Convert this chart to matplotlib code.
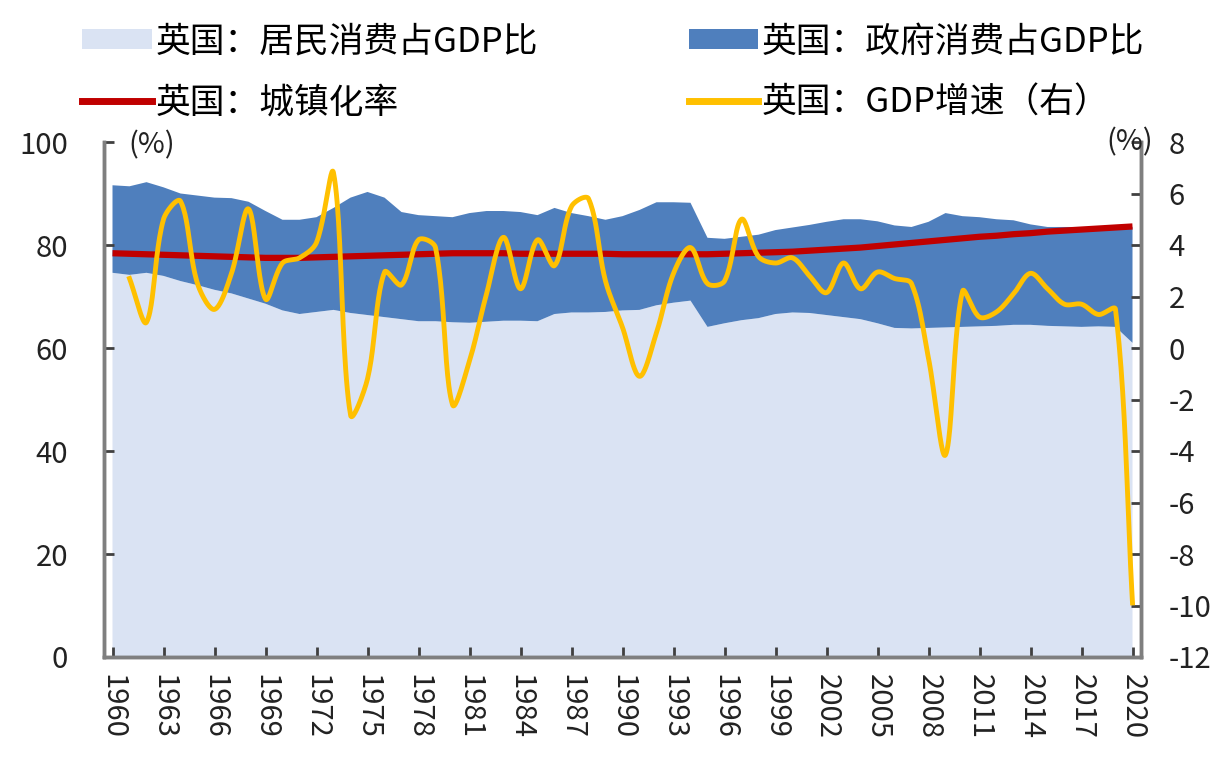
import numpy as np
import matplotlib
matplotlib.use("Agg")
import matplotlib.pyplot as plt
from matplotlib.patches import Patch
from matplotlib.lines import Line2D

plt.rcParams["font.family"] = ["Noto Sans CJK SC", "DejaVu Sans"]
plt.rcParams["axes.unicode_minus"] = False

years = list(range(1960, 2021))

# 居民消费占GDP比 (%)
household = [74.6, 74.2, 74.6, 74.0, 73.0, 72.2, 71.3, 70.6, 69.6, 68.6,
             67.3, 66.6, 67.0, 67.4, 66.8, 66.4, 66.0, 65.6, 65.2, 65.2,
             65.0, 64.9, 65.1, 65.3, 65.3, 65.2, 66.6, 66.9, 66.9, 67.0,
             67.3, 67.4, 68.3, 68.8, 69.2, 64.1, 64.8, 65.4, 65.8, 66.6,
             66.9, 66.8, 66.4, 66.0, 65.6, 64.8, 63.9, 63.8, 63.9, 64.0,
             64.1, 64.2, 64.3, 64.5, 64.5, 64.3, 64.2, 64.1, 64.2, 64.1, 61.0]

# 居民+政府消费占GDP比 (%)
total = [91.6, 91.4, 92.2, 91.2, 90.0, 89.6, 89.2, 89.1, 88.4, 86.6,
         84.9, 84.9, 85.4, 87.2, 89.2, 90.3, 89.2, 86.4, 85.8, 85.6,
         85.4, 86.2, 86.6, 86.6, 86.4, 85.8, 87.2, 86.2, 85.6, 84.9,
         85.6, 86.8, 88.3, 88.3, 88.2, 81.4, 81.2, 81.6, 82.0, 82.9,
         83.4, 83.9, 84.5, 85.0, 85.0, 84.6, 83.8, 83.5, 84.5, 86.2,
         85.6, 85.4, 85.0, 84.8, 84.0, 83.5, 83.5, 83.5, 83.5, 83.5, 83.5]

government = [t - h for t, h in zip(total, household)]

# 城镇化率 (%)
urban = [78.4, 78.3, 78.2, 78.1, 78.0, 77.9, 77.8, 77.7, 77.6, 77.5,
         77.5, 77.5, 77.6, 77.7, 77.8, 77.9, 78.0, 78.1, 78.2, 78.3,
         78.4, 78.4, 78.4, 78.4, 78.3, 78.3, 78.3, 78.3, 78.3, 78.3,
         78.2, 78.2, 78.2, 78.2, 78.2, 78.2, 78.3, 78.4, 78.5, 78.6,
         78.7, 78.9, 79.1, 79.3, 79.5, 79.8, 80.1, 80.4, 80.7, 81.0,
         81.3, 81.6, 81.8, 82.1, 82.3, 82.6, 82.8, 83.0, 83.2, 83.4, 83.6]

# GDP增速 (%), 1961-2020
gdp_years = list(range(1961, 2021))
gdp_growth = [2.7, 1.0, 5.0, 5.7, 2.5, 1.5, 2.9, 5.4, 1.9, 3.3,
              3.5, 4.1, 6.8, -2.6, -1.2, 2.95, 2.45, 4.2, 3.9, -2.2,
              -0.5, 2.1, 4.3, 2.3, 4.2, 3.2, 5.5, 5.8, 2.6, 0.8,
              -1.1, 0.6, 2.9, 3.9, 2.5, 2.6, 5.0, 3.55, 3.3, 3.5,
              2.8, 2.15, 3.3, 2.3, 2.95, 2.7, 2.5, -0.4, -4.15, 2.2,
              1.2, 1.4, 2.1, 2.9, 2.3, 1.7, 1.7, 1.3, 1.5, -9.9]

xtick_years = list(range(1960, 2021, 3))


def smooth_line(x, y, sx=17.0, sy=25.75, n=24):
    """Сглаживание Безье в экранных координатах (похоже на Excel)."""
    P = np.column_stack([np.asarray(x, float) * sx, np.asarray(y, float) * sy])
    m = len(P)
    out = [P[0]]
    t = np.linspace(0, 1, n + 1)[1:, None]
    for i in range(m - 1):
        p1, p2 = P[i], P[i + 1]
        d12 = np.linalg.norm(p2 - p1)
        if i > 0:
            p0 = P[i - 1]
            d01 = np.linalg.norm(p1 - p0)
            c1 = p1 + (p2 - p0) * d12 / (d01 + d12) / 3
        else:
            c1 = p1 + (p2 - p1) / 3
        if i + 2 < m:
            p3 = P[i + 2]
            d23 = np.linalg.norm(p3 - p2)
            c2 = p2 - (p3 - p1) * d12 / (d12 + d23) / 3
        else:
            c2 = p2 - (p2 - p1) / 3
        seg = ((1 - t) ** 3 * p1 + 3 * (1 - t) ** 2 * t * c1
               + 3 * (1 - t) * t ** 2 * c2 + t ** 3 * p2)
        out.extend(seg)
    out = np.array(out)
    return out[:, 0] / sx, out[:, 1] / sy


c_light = "#DAE3F3"
c_dark = "#4F7FBD"
c_red = "#C00000"
c_yellow = "#FFC000"
c_axis = "#7F7F7F"

fig = plt.figure(figsize=(12.24, 7.58), dpi=100)
ax = fig.add_axes([104 / 1224, 101 / 758, 1037 / 1224, 515 / 758])
ax2 = ax.twinx()

ax.stackplot(years, household, government, colors=[c_light, c_dark],
             linewidth=0)
ax.plot(years, urban, color=c_red, lw=4.5, solid_capstyle="butt")

sx, sy = smooth_line(gdp_years, gdp_growth)
ax2.plot(sx, sy, color=c_yellow, lw=3.5)

ax.set_xlim(1959.5, 2020.5)
ax.set_ylim(0, 100)
ax2.set_ylim(-12, 8)
ax.set_yticks(range(0, 101, 20))
ax2.set_yticks(range(-12, 9, 2))
ax.set_xticks(xtick_years)
ax.set_xticklabels([str(y) for y in xtick_years], rotation=270)

for a in (ax, ax2):
    a.spines["top"].set_visible(False)
    for s in ("left", "right", "bottom"):
        a.spines[s].set_color(c_axis)
        a.spines[s].set_linewidth(2.5)
    a.tick_params(direction="in", length=7, width=2, color="#404040",
                  labelsize=21, labelcolor="#222222")
ax.tick_params(axis="y", pad=26)
ax.tick_params(axis="x", pad=12)
ax2.tick_params(axis="y", pad=20)
ax.set_zorder(1)
ax.patch.set_visible(False)
ax2.set_zorder(2)

fig.text(152 / 1224, 1 - 145 / 758, "(%)", fontsize=21, color="#222222",
         ha="center", va="center")
fig.text(1130 / 1224, 1 - 142 / 758, "(%)", fontsize=21, color="#222222",
         ha="center", va="center")

handles = [
    Patch(facecolor=c_light, edgecolor="none", label="英国：居民消费占GDP比"),
    Line2D([], [], color=c_red, lw=5, label="英国：城镇化率"),
    Patch(facecolor=c_dark, edgecolor="none", label="英国：政府消费占GDP比"),
    Line2D([], [], color=c_yellow, lw=5, label="英国：GDP增速（右）"),
]
fig.legend(handles=handles, ncol=2, loc="upper left",
           bbox_to_anchor=(65 / 1224, 1 - 7 / 758), frameon=False, fontsize=25,
           handlelength=2.0, handleheight=0.5, handletextpad=0.1,
           columnspacing=4.35, labelspacing=0.75, borderaxespad=0.1)

fig.savefig("out.png", dpi=100)
